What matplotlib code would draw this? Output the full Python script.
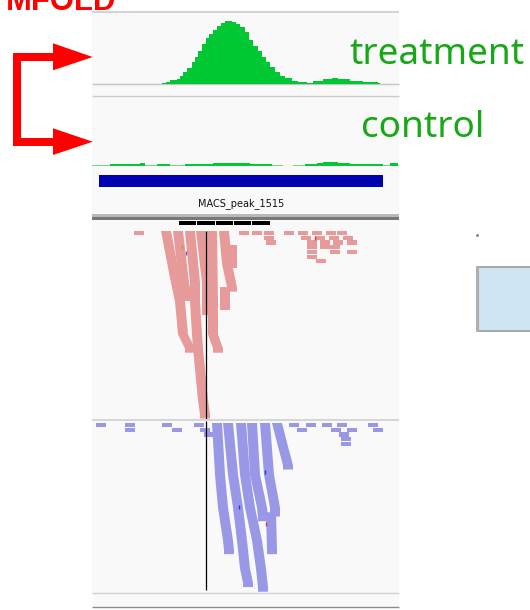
import numpy as np
import matplotlib
matplotlib.use("Agg")
import matplotlib.pyplot as plt
from matplotlib.patches import Rectangle, Polygon

W, H = 530, 610
ROW_PX = 4.7  # pixel pitch of one read row

# view and reads
view_len = 307
center_pos = 114.3
read_len = 10

# treatment coverage (bp edges and depth)
treat_edges = [70, 74, 78, 85, 88, 91, 95, 100, 103, 106, 110, 114, 117, 121, 125, 129, 133,
               140, 144, 148, 153, 157, 161, 166, 170, 174, 178, 183, 188, 193, 200, 206, 215,
               221, 231, 240, 246, 258, 271, 286, 288]
treat_depth = [0.5, 1.3, 3.7, 4.7, 8, 11.3, 15.7, 21.3, 26.3, 33, 39.7, 45.3, 49.7, 53.7, 58, 60.3,
               63, 62, 59.7, 56.3, 51.3, 43.7, 38, 33, 26.3, 21.3, 16.3, 11.3, 8, 5.3, 3, 2, 1,
               2.3, 4.3, 5.7, 4.7, 2.3, 1.3, 1]

# control coverage
ctrl_edges = [0, 18, 48, 53, 65, 78, 93, 121, 158, 180, 191, 201, 213, 225, 231, 246, 258, 291,
              298, 306, 307]
ctrl_depth = [1, 2, 3, 1, 2, 1, 2, 3, 2, 1, 0, 1, 2, 3, 4, 3, 2, 1, 3, 1]

# called peak
peak_name = "MACS_peak_1515"
peak_start, peak_end = 7, 291

# downsampled windows
ds_start = [87.3, 105.3, 124, 142, 160]
ds_end = [104, 123, 140.7, 158.7, 178]

# forward reads: strips of stacked reads as (row, start) pairs
fwd_strips = [
    [(0, 69), (10, 78), (15, 83), (22, 86), (25, 93)],
    [(0, 81), (11, 87), (14, 90)],
    [(0, 93), (11, 98), (15, 98), (22, 100), (25, 101), (36, 106), (39, 108)],
    [(0, 104), (11, 110), (17, 110)],
    [(0, 115), (15, 116), (22, 116), (25, 121)],
    [(0, 127), (7, 130), (12, 135)],
    [(12, 128), (16, 128)],
    [(3, 135), (7, 135)],
]
fwd_rows = [0, 0, 0, 0, 0, 0, 0, 0, 0,
            1, 1, 1, 1, 1,
            2, 2, 2, 2, 2,
            3, 3, 3,
            4, 4, 4,
            5, 6]
fwd_starts = [42, 147, 160, 172, 192, 206, 220, 234, 245,
              172, 209, 223, 237, 251,
              174, 215, 228, 241, 255,
              215, 228, 238,
              215, 238, 255,
              215, 224]

# reverse reads
rev_strips = [
    [(0, 120), (11, 123), (18, 126), (25, 131), (27, 132)],
    [(0, 131), (11, 136), (18, 141), (25, 145), (31, 148), (34, 151)],
    [(0, 144), (11, 148), (18, 153), (25, 160), (31, 164), (35, 166)],
    [(0, 155), (11, 158), (18, 165), (20, 166)],
    [(0, 168), (11, 172), (18, 178), (19, 178)],
    [(19, 174), (27, 175)],
    [(0, 180), (5, 186), (9, 191)],
]
rev_rows = [0, 0, 0, 0, 0, 0, 0, 0, 0,
            1, 1, 1, 1, 1, 1, 1,
            2, 2, 3, 4]
rev_starts = [4, 33, 70, 102, 197, 214, 230, 245, 276,
              33, 80, 108, 205, 239, 255, 281,
              112, 247, 249, 249]

# mismatched bases (row, position, colour)
fwd_mm = [(3, 90, "#e08a2c"), (4.3, 94, "#7a50c0"), (1, 223, "#e0303a")]
rev_mm = [(10, 173, "#2838d8"), (17.5, 147, "#2838d8"), (21, 174, "#e0303a")]

GREEN = "#00c832"
PINK = "#e79a9a"
BLUE = "#9898e7"

fig = plt.figure(figsize=(W / 100, H / 100), dpi=100)


def px_axes(left, top, right, bottom, z=1):
    ax = fig.add_axes([left / W, 1 - bottom / H, (right - left) / W, (bottom - top) / H], zorder=z)
    ax.set_axis_off()
    return ax


# background panel and track separators
bg = px_axes(0, 0, W, H, z=0)
bg.set_xlim(0, W)
bg.set_ylim(H, 0)
bg.add_patch(Rectangle((92, 12), 307, 595, color="#f9f9f9", lw=0))
for y, c, lw in [(11.7, "#cccccc", 1.2), (83.6, "#c4c4c4", 1.0), (95.7, "#cccccc", 1.0),
                 (419.7, "#d6d6d6", 1.4), (592.7, "#d0d0d0", 1.0), (606.7, "#8c8c8c", 1.0)]:
    bg.hlines(y, 92, 399, color=c, lw=lw)
bg.add_patch(Rectangle((92, 214), 307, 3, color="#b8b8b8", lw=0))
bg.add_patch(Rectangle((92, 217), 307, 2.5, color="#777777", lw=0))

# treatment coverage
ax_t = px_axes(92, 12, 399, 83.5)
ax_t.stairs(treat_depth, treat_edges, fill=True, color=GREEN, lw=0)
ax_t.set_xlim(0, view_len)
ax_t.set_ylim(0, 71.5)

# control coverage
ax_c = px_axes(92, 96, 399, 166.5)
ax_c.hlines(0.5, 0, view_len, color="#cccccc", lw=0.8)
ctrl_colors = ["#66dc7a" if d == 1 else GREEN for d in ctrl_depth]
ax_c.bar(ctrl_edges[:-1], ctrl_depth, width=np.diff(ctrl_edges), align="edge",
         color=ctrl_colors, lw=0)
ax_c.set_xlim(0, view_len)
ax_c.set_ylim(0, 70.5)

# peak feature
ax_p = px_axes(92, 166, 399, 214)
ax_p.bar(peak_start, 12, width=peak_end - peak_start, bottom=9, align="edge", color="#0000b0", lw=0)
ax_p.text((peak_start + peak_end) / 2, 40, peak_name, ha="center", va="baseline",
          fontsize=7, family="DejaVu Sans", color="#111111")
ax_p.set_xlim(0, view_len)
ax_p.set_ylim(48, 0)


def draw_strip(ax, strip, color):
    left = [(x, r) for r, x in strip]
    left.append((strip[-1][1], strip[-1][0] + 0.9))
    right = [(x + read_len, r) for x, r in reversed(left)]
    ax.add_patch(Polygon(left + right, closed=True, color=color, lw=0))


def draw_reads(ax, strips, rows, starts, mism, color, top_row, bottom_row):
    for s in strips:
        draw_strip(ax, s, color)
    ax.bar(starts, 0.9, width=read_len, bottom=rows, align="edge", color=color, lw=0)
    for r, x, c in mism:
        ax.vlines(x, r, r + 0.9, color=c, lw=1)
    ax.set_xlim(0, view_len)
    ax.set_ylim(bottom_row, top_row)


# forward strand reads
ax_f = px_axes(92, 220, 399, 418.5)
draw_reads(ax_f, fwd_strips, fwd_rows, fwd_starts, fwd_mm, PINK,
           (220 - 231) / ROW_PX, (418.5 - 231) / ROW_PX)
ax_f.bar(ds_start, 0.85, width=np.subtract(ds_end, ds_start), bottom=-2.15, align="edge",
         color="black", lw=0)
ax_f.vlines(center_pos, 0, (418.5 - 231) / ROW_PX, color="black", lw=0.9)

# reverse strand reads
ax_r = px_axes(92, 420.5, 399, 592.5)
draw_reads(ax_r, rev_strips, rev_rows, rev_starts, rev_mm, BLUE,
           (420.5 - 423) / ROW_PX, (592.5 - 423) / ROW_PX)
ax_r.vlines(center_pos, (420.5 - 423) / ROW_PX, (590 - 423) / ROW_PX, color="black", lw=0.9)

# labels and arrows on top
top = px_axes(0, 0, W, H, z=10)
top.set_xlim(0, W)
top.set_ylim(H, 0)
red = "#ff0000"
top.add_patch(Polygon([(13.3, 53.3), (53, 53.3), (53, 60.7), (20.7, 60.7), (20.7, 138.3),
                       (53, 138.3), (53, 145.7), (13.3, 145.7)], closed=True, color=red, lw=0))
top.add_patch(Polygon([(53, 43.3), (92.7, 57), (53, 70.3)], closed=True, color=red, lw=0))
top.add_patch(Polygon([(53, 128.3), (92.7, 141.7), (53, 155)], closed=True, color=red, lw=0))
top.text(6, 10, "MFOLD", color=red, fontsize=22.3, fontweight="bold",
         family="Liberation Sans", va="baseline", ha="left")
top.text(349, 63.5, "treatment", color="#16a816", fontsize=26.6, family="Noto Sans",
         va="baseline", ha="left")
top.text(361, 137, "control", color="#16a816", fontsize=26.6, family="Noto Sans",
         va="baseline", ha="left")

# side panel fragment
top.add_patch(Rectangle((477, 267), 70, 64, fc="#d0e5f4", ec="#9c9c9c", lw=1.2))
top.vlines(477.5, 267, 331, color="#b0b0b0", lw=1.6)
top.plot([477], [235], "s", ms=1, color="#888888")

fig.savefig("out.png", dpi=100)
